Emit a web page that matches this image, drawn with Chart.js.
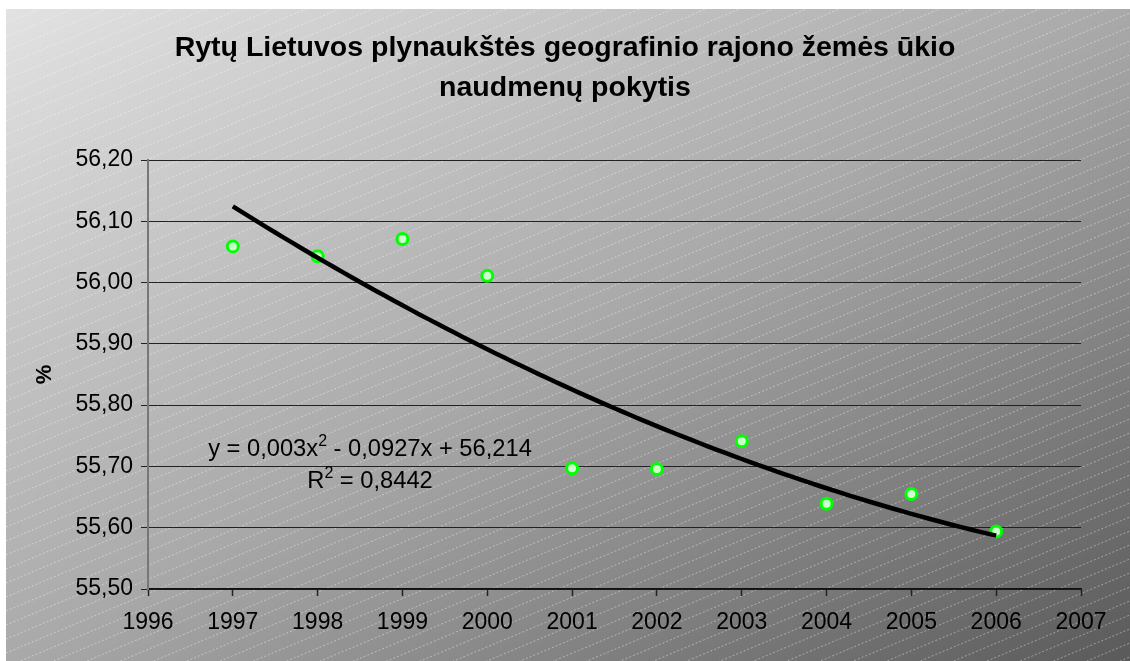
<!DOCTYPE html>
<html><head><meta charset="utf-8">
<script src="https://cdn.jsdelivr.net/npm/chart.js@4/dist/chart.umd.min.js"></script>
<style>html,body{margin:0;padding:0;background:#fff;}canvas{display:block;}</style>
</head><body>
<canvas id="c" width="1130" height="661"></canvas>
<script>
// ---- data ----
const years = [1997, 1998, 1999, 2000, 2001, 2002, 2003, 2004, 2005, 2006];
const shareValues = [56.059, 56.043, 56.071, 56.011, 55.697, 55.696, 55.741, 55.639, 55.655, 55.594];
const xTickValues = [1996, 1997, 1998, 1999, 2000, 2001, 2002, 2003, 2004, 2005, 2006, 2007];
const xTickLabels = ['1996', '1997', '1998', '1999', '2000', '2001', '2002', '2003', '2004', '2005', '2006', '2007'];
const yTickValues = [55.5, 55.6, 55.7, 55.8, 55.9, 56.0, 56.1, 56.2];
const yTickLabels = ['55,50', '55,60', '55,70', '55,80', '55,90', '56,00', '56,10', '56,20'];
// polynomial trendline as printed on the chart: y = c2*x^2 + c1*x + c0, x = 1..10 for 1997..2006
const trendCoefficients = [56.214, -0.0927, 0.003];
const trendOriginYear = 1996;
const titleLines = ['Rytų Lietuvos plynaukštės geografinio rajono žemės ūkio', 'naudmenų pokytis'];
const yAxisTitle = '%';
const equationParts = ['y = 0,003x', '2', ' - 0,0927x + 56,214'];
const rSquaredParts = ['R', '2', ' = 0,8442'];

// trendline samples along the printed polynomial
const trendPoints = [];
for (let i = 0; i <= 90; i++) {
  const yr = years[0] + i * (years[years.length - 1] - years[0]) / 90;
  const x = yr - trendOriginYear;
  trendPoints.push({x: yr, y: trendCoefficients[0] + trendCoefficients[1] * x + trendCoefficients[2] * x * x});
}

const FONT = "'Liberation Sans', Arial, sans-serif";

const bgPlugin = {
  id: 'bg',
  beforeDraw(chart) {
    const ctx = chart.ctx;
    const x0 = 6, y0 = 9, x1 = chart.width, y1 = chart.height;
    const w = x1 - x0, h = y1 - y0;
    ctx.save();
    ctx.fillStyle = '#fff';
    ctx.fillRect(0, 0, chart.width, chart.height);
    const k = 2 / (1 / (w * w) + 1 / (h * h));
    const g = ctx.createLinearGradient(x0, y0, x0 + k / w, y0 + k / h);
    g.addColorStop(0, '#e2e2e2');
    g.addColorStop(0.5, '#a9a9a9');
    g.addColorStop(1, '#5a5a5a');
    ctx.fillStyle = g;
    ctx.fillRect(x0, y0, w, h);
    ctx.beginPath(); ctx.rect(x0, y0, w, h); ctx.clip();
    ctx.strokeStyle = 'rgba(255,255,255,0.4)';
    ctx.lineWidth = 1;
    ctx.setLineDash([2, 2]);
    const slope = 0.42, gap = 14;
    for (let c = y0; c < y1 + slope * w + gap; c += gap) {
      ctx.beginPath(); ctx.moveTo(x0, c); ctx.lineTo(x1, c - slope * w); ctx.stroke();
    }
    ctx.restore();
  }
};

function drawSupLine(ctx, parts, cx, baseline, size) {
  const supSize = Math.round(size * 0.66);
  ctx.font = size + 'px ' + FONT;
  const w0 = ctx.measureText(parts[0]).width;
  const w2 = ctx.measureText(parts[2]).width;
  ctx.font = supSize + 'px ' + FONT;
  const w1 = ctx.measureText(parts[1]).width;
  let x = cx - (w0 + w1 + w2) / 2;
  ctx.textAlign = 'left';
  ctx.textBaseline = 'alphabetic';
  ctx.font = size + 'px ' + FONT;
  ctx.fillText(parts[0], x, baseline); x += w0;
  ctx.font = supSize + 'px ' + FONT;
  ctx.fillText(parts[1], x, baseline - size * 0.42); x += w1;
  ctx.font = size + 'px ' + FONT;
  ctx.fillText(parts[2], x, baseline);
}

const textPlugin = {
  id: 'texts',
  afterDraw(chart) {
    const ctx = chart.ctx;
    ctx.save();
    ctx.fillStyle = '#000';
    ctx.textAlign = 'center';
    ctx.textBaseline = 'alphabetic';
    ctx.font = 'bold 28.5px ' + FONT;
    ctx.fillText(titleLines[0], 565, 56);
    ctx.fillText(titleLines[1], 565, 96);
    drawSupLine(ctx, equationParts, 370, 456, 23.7);
    drawSupLine(ctx, rSquaredParts, 370, 488, 23.7);
    ctx.restore();
  }
};

new Chart(document.getElementById('c'), {
  type: 'scatter',
  data: {
    datasets: [
      {
        type: 'line',
        data: trendPoints,
        borderColor: '#000',
        borderWidth: 4.5,
        pointRadius: 0,
        fill: false,
        tension: 0
      },
      {
        data: years.map((y, i) => ({x: y, y: shareValues[i]})),
        pointRadius: 5.5,
        pointBorderWidth: 3,
        pointBackgroundColor: '#ccffcc',
        pointBorderColor: '#00ff00',
        showLine: false
      }
    ]
  },
  options: {
    responsive: false,
    animation: false,
    events: [],
    layout: {padding: {top: 160, right: 49, bottom: 0, left: 0}},
    plugins: {legend: {display: false}, tooltip: {enabled: false}, title: {display: false}},
    scales: {
      x: {
        type: 'linear',
        min: 1996, max: 2007,
        afterBuildTicks: s => { s.ticks = xTickValues.map(v => ({value: v})); },
        afterFit: s => { s.height = 72; },
        ticks: {
          callback: (v) => xTickLabels[xTickValues.indexOf(v)],
          font: {family: FONT, size: 23},
          color: '#000',
          padding: 13,
          maxRotation: 0,
          autoSkip: false
        },
        grid: {drawOnChartArea: false, drawTicks: true, tickLength: 7, tickColor: '#222', tickWidth: 1.5},
        border: {color: '#111', width: 1.5}
      },
      y: {
        min: 55.5, max: 56.2,
        afterBuildTicks: s => { s.ticks = yTickValues.map(v => ({value: v})); },
        afterFit: s => { s.width = 148; },
        ticks: {
          callback: (v) => yTickLabels[yTickValues.findIndex(t => Math.abs(t - v) < 1e-6)],
          font: {family: FONT, size: 23},
          color: '#000',
          padding: 8,
          autoSkip: false
        },
        grid: {color: '#222', lineWidth: 1, tickLength: 7, tickColor: '#222'},
        border: {color: '#777', width: 2},
        title: {
          display: true,
          text: yAxisTitle,
          font: {family: FONT, size: 22, weight: 'bold'},
          color: '#000',
          padding: {top: 32, bottom: 0}
        }
      }
    }
  },
  plugins: [bgPlugin, textPlugin]
});
</script>
</body></html>
